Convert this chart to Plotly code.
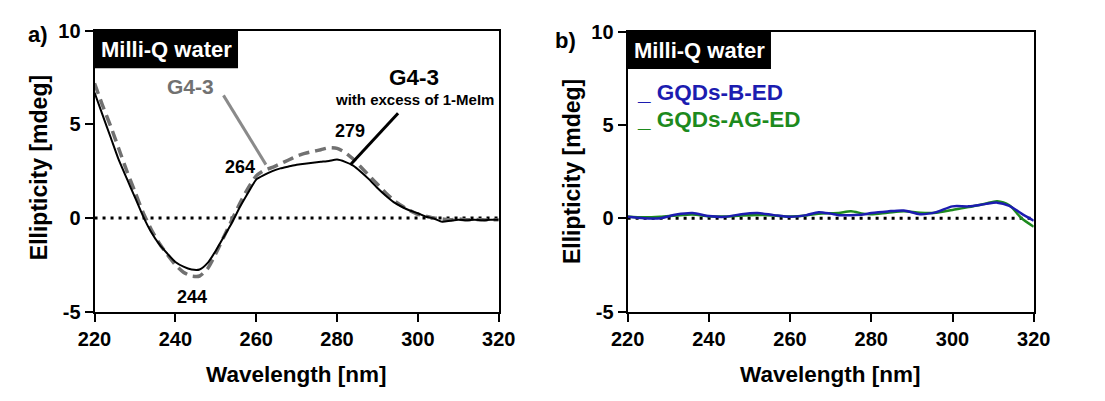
import plotly.graph_objects as go

# ---- data -------------------------------------------------------------
# Panel a: CD spectra of G4-3 alone and with excess of 1-MeIm
wl_a = [220, 222, 224, 226, 228, 230, 232, 234, 236, 238, 240, 242, 244, 246,
        248, 250, 252, 254, 256, 258, 260, 262, 264, 266, 268, 270, 272, 274,
        276, 278, 280, 282, 284, 286, 288, 290, 292, 294, 296, 298, 300, 302,
        304, 306, 308, 310, 312, 314, 316, 318, 320]
g43_meim = [6.7, 5.5, 4.3, 3.1, 2.1, 1.1, 0.1, -0.75, -1.4, -1.9, -2.35, -2.6,
            -2.75, -2.75, -2.4, -1.75, -1.0, -0.25, 0.6, 1.35, 2.05, 2.3, 2.5,
            2.65, 2.75, 2.85, 2.9, 2.95, 3.0, 3.05, 3.12, 3.0, 2.8, 2.45, 2.05,
            1.6, 1.2, 0.85, 0.6, 0.4, 0.25, 0.07, -0.03, -0.2, -0.15, -0.1,
            -0.12, -0.1, -0.12, -0.1, -0.1]
g43 = [7.2, 6.0, 4.9, 3.7, 2.5, 1.4, 0.3, -0.6, -1.35, -1.95, -2.5, -2.9,
       -3.1, -3.1, -2.7, -1.9, -1.0, -0.1, 0.8, 1.6, 2.25, 2.55, 2.7, 2.9,
       3.1, 3.3, 3.45, 3.55, 3.65, 3.75, 3.72, 3.5, 3.15, 2.7, 2.25, 1.8, 1.35,
       0.95, 0.65, 0.4, 0.2, 0.1, 0.0, -0.05, -0.1, -0.05, -0.1, -0.08, -0.1,
       -0.1, -0.1]

# Panel b: CD spectra of the graphene quantum dots
wl_b = [220, 224, 228, 232, 236, 240, 244, 248, 252, 256, 260, 264, 267, 270,
        272, 275, 278, 280, 284, 288, 292, 296, 300, 304, 308, 311, 314, 317,
        320]
gqds_b_ed = [0.08, 0.0, 0.0, 0.2, 0.28, 0.12, 0.08, 0.22, 0.28, 0.17, 0.08,
             0.17, 0.33, 0.25, 0.17, 0.17, 0.2, 0.28, 0.37, 0.42, 0.22, 0.33,
             0.64, 0.64, 0.76, 0.84, 0.67, 0.25, -0.13]
gqds_ag_ed = [0.1, 0.05, 0.08, 0.15, 0.2, 0.1, 0.1, 0.15, 0.18, 0.15, 0.1,
              0.15, 0.25, 0.27, 0.28, 0.38, 0.25, 0.22, 0.3, 0.38, 0.3, 0.3,
              0.45, 0.6, 0.78, 0.92, 0.7, 0.0, -0.45]

x_ticks = [220, 240, 260, 280, 300, 320]
y_ticks = [-5, 0, 5, 10]
y_ticktext = ["-5", "0", "5", "10"]

# ---- styling ----------------------------------------------------------
FONT = "Liberation Sans, Arial, Helvetica, sans-serif"
GREY = "#717171"
BLUE = "#1c1cb0"
GREEN = "#1d8a1d"
W, H = 1105, 401


def px(xp):
    return xp / W


def py(yp):
    return 1 - yp / H


fig = go.Figure()

# zero reference lines (dotted)
for xa, ya in (("x", "y"), ("x2", "y2")):
    fig.add_trace(go.Scatter(x=[220, 320], y=[0, 0], mode="lines",
                             line=dict(color="black", width=3, dash="3px,5px"),
                             xaxis=xa, yaxis=ya, showlegend=False,
                             hoverinfo="skip"))

fig.add_trace(go.Scatter(x=wl_a, y=g43, mode="lines", name="G4-3",
                         line=dict(color=GREY, width=3.5, dash="11px,6px",
                                   shape="spline", smoothing=0.6),
                         xaxis="x", yaxis="y", showlegend=False))
fig.add_trace(go.Scatter(x=wl_a, y=g43_meim, mode="lines",
                         name="G4-3 with excess of 1-MeIm",
                         line=dict(color="black", width=2, shape="spline",
                                   smoothing=0.6),
                         xaxis="x", yaxis="y", showlegend=False))

fig.add_trace(go.Scatter(x=wl_b, y=gqds_ag_ed, mode="lines", name="GQDs-AG-ED",
                         line=dict(color=GREEN, width=2.5, shape="spline",
                                   smoothing=0.8),
                         xaxis="x2", yaxis="y2", showlegend=False))
fig.add_trace(go.Scatter(x=wl_b, y=gqds_b_ed, mode="lines", name="GQDs-B-ED",
                         line=dict(color=BLUE, width=2.5, shape="spline",
                                   smoothing=0.8),
                         xaxis="x2", yaxis="y2", showlegend=False))

axis_common = dict(showline=True, mirror=True, linecolor="black", linewidth=2,
                   ticks="outside", ticklen=8, tickwidth=2, tickcolor="black",
                   showgrid=False, zeroline=False,
                   tickfont=dict(family=FONT, size=20, color="black",
                                 weight="bold"))

fig.update_layout(
    width=W, height=H,
    margin=dict(l=0, r=0, t=0, b=0),
    paper_bgcolor="white", plot_bgcolor="white",
    xaxis=dict(domain=[px(80), px(497)], range=[220, 320], tickvals=x_ticks,
               anchor="y", **axis_common),
    yaxis=dict(domain=[py(318), py(21)], range=[-5, 10], tickvals=y_ticks,
               ticktext=y_ticktext, anchor="x", **axis_common),
    xaxis2=dict(domain=[px(630), px(1049)], range=[220, 320],
                tickvals=x_ticks, anchor="y2", **axis_common),
    yaxis2=dict(domain=[py(318), py(22)], range=[-5, 10], tickvals=y_ticks,
                ticktext=y_ticktext, anchor="x2", **axis_common),
)

# black label boxes
fig.add_shape(type="rect", xref="x", yref="y", x0=220, x1=255.5, y0=8.0,
              y1=10, fillcolor="black", line=dict(width=0))
fig.add_shape(type="rect", xref="x2", yref="y2", x0=220, x1=255.3, y0=8.0,
              y1=10, fillcolor="black", line=dict(width=0))

# leader lines
fig.add_shape(type="line", xref="x", yref="y", x0=251.9, y0=6.55, x1=262.4,
              y1=2.85, line=dict(color="#8a8a8a", width=3))
fig.add_shape(type="line", xref="x", yref="y", x0=295.1, y0=5.6, x1=283.3,
              y1=2.85, line=dict(color="black", width=3))


def label(text, x, y, size, color="black", xref="paper", yref="paper",
          xanchor="center", textangle=0):
    fig.add_annotation(text=text, x=x, y=y, xref=xref, yref=yref,
                       xanchor=xanchor, yanchor="middle", showarrow=False,
                       textangle=textangle,
                       font=dict(family=FONT, size=size, color=color,
                                 weight="bold"))


# panel letters
label("a)", px(22), py(25), 22)
label("b)", px(566), py(31), 22)

# water labels
label("Milli-Q water", 237.8, 9.0, 22, "white", "x", "y")
label("Milli-Q water", 237.6, 9.0, 22, "white", "x2", "y2")

# axis titles
label("Wavelength [nm]", px(288), py(385), 22.5)
label("Wavelength [nm]", px(839), py(385), 22.5)
label("Ellipticity [mdeg]", px(23), py(166), 23, textangle=-90)
label("Ellipticity [mdeg]", px(572), py(170), 23, textangle=-90)

# panel a curve labels
label("G4-3", 243.8, 7.0, 21, GREY, "x", "y")
label("G4-3", 299.1, 7.5, 22.5, "black", "x", "y")
label("with excess of 1-MeIm", 299.1, 6.35, 15, "black", "x", "y")
label("264", 256.0, 2.7, 18, "black", "x", "y")
label("279", 283.3, 4.65, 18, "black", "x", "y")
label("244", 244.0, -4.2, 18, "black", "x", "y")

# panel b legend
label("_ GQDs-B-ED", px(638), py(86), 22.5, BLUE, xanchor="left")
label("_ GQDs-AG-ED", px(638), py(115), 22.5, GREEN, xanchor="left")

fig.write_html("out.html")
